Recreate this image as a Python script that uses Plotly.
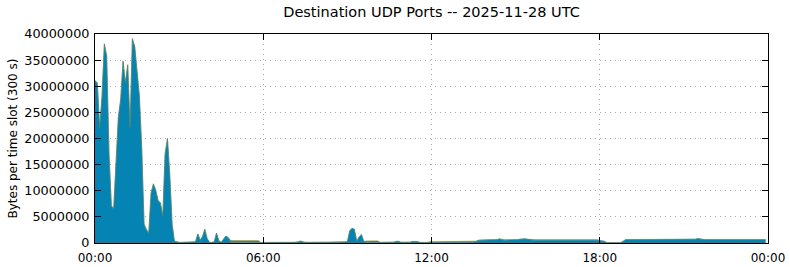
import plotly.graph_objects as go

# 5-minute slots over one day (288 slots), values in millions of bytes
slot_minutes = 5
main_mb = [
    31.0, 30.5, 22.0, 28.0, 38.0, 35.7, 17.0, 7.0, 6.5, 15.0, 24.0, 27.4,
    34.7, 30.5, 34.0, 22.0, 39.0, 37.5, 33.0, 28.0, 18.0, 3.5, 2.5, 1.8,
    9.5, 11.2, 10.0, 8.0, 7.6, 5.0, 17.0, 19.9, 13.0, 3.5, 0.3, 0.15,
    0.10, 0.10, 0.10, 0.10, 0.10, 0.10, 0.10, 0.20, 1.70, 0.50, 1.20, 2.60,
    0.80, 0.10, 0.10, 0.20, 1.85, 0.40, 0.10, 0.80, 1.30, 1.00, 0.10, 0.05,
    0.05, 0.05, 0.05, 0.05, 0.05, 0.05, 0.05, 0.05, 0.05, 0.05, 0.05, 0.05,
    0.05, 0.10, 0.10, 0.12, 0.10, 0.10, 0.12, 0.10, 0.10, 0.10, 0.12, 0.10,
    0.10, 0.10, 0.12, 0.20, 0.35, 0.15, 0.10, 0.10, 0.10, 0.12, 0.10, 0.10,
    0.10, 0.10, 0.10, 0.12, 0.10, 0.10, 0.10, 0.10, 0.12, 0.10, 0.10, 0.12,
    0.20, 2.30, 2.80, 2.60, 0.30, 1.10, 1.60, 0.30, 0.10, 0.10, 0.10, 0.10,
    0.10, 0.10, 0.10, 0.10, 0.10, 0.10, 0.10, 0.10, 0.15, 0.30, 0.30, 0.12,
    0.10, 0.10, 0.10, 0.15, 0.30, 0.30, 0.25, 0.10, 0.08, 0.08, 0.08, 0.08,
    0.08, 0.08, 0.08, 0.08, 0.08, 0.08, 0.08, 0.08, 0.08, 0.08, 0.08, 0.08,
    0.10, 0.10, 0.10, 0.10, 0.10, 0.10, 0.15, 0.30, 0.50, 0.55, 0.55, 0.55,
    0.55, 0.55, 0.55, 0.55, 0.60, 0.75, 0.60, 0.55, 0.55, 0.55, 0.55, 0.55,
    0.55, 0.60, 0.70, 0.75, 0.75, 0.70, 0.60, 0.55, 0.55, 0.55, 0.55, 0.55,
    0.55, 0.55, 0.55, 0.60, 0.55, 0.55, 0.55, 0.55, 0.55, 0.55, 0.55, 0.55,
    0.55, 0.55, 0.55, 0.55, 0.55, 0.55, 0.55, 0.55, 0.55, 0.55, 0.55, 0.55,
    0.45, 0.40, 0.30, 0.05, 0.05, 0.05, 0.05, 0.05, 0.05, 0.05, 0.30, 0.60,
    0.60, 0.60, 0.60, 0.60, 0.60, 0.60, 0.60, 0.60, 0.60, 0.60, 0.60, 0.60,
    0.60, 0.60, 0.60, 0.60, 0.60, 0.60, 0.60, 0.60, 0.60, 0.60, 0.60, 0.60,
    0.60, 0.60, 0.60, 0.60, 0.65, 0.70, 0.80, 0.70, 0.60, 0.60, 0.60, 0.60,
    0.60, 0.60, 0.60, 0.60, 0.60, 0.60, 0.60, 0.60, 0.60, 0.60, 0.60, 0.60,
    0.60, 0.60, 0.60, 0.60, 0.60, 0.60, 0.60, 0.60, 0.60, 0.60, 0.60, 0.60,
]
other_mb = [
    0.15, 0.15, 0.15, 0.15, 0.15, 0.15, 0.15, 0.15, 0.15, 0.15, 0.15, 0.15,
    0.15, 0.15, 0.15, 0.15, 0.15, 0.15, 0.15, 0.15, 0.15, 0.15, 0.15, 0.15,
    0.15, 0.15, 0.15, 0.15, 0.15, 0.15, 0.15, 0.15, 0.15, 0.15, 0.05, 0.05,
    0.05, 0.05, 0.05, 0.05, 0.05, 0.05, 0.05, 0.05, 0.05, 0.05, 0.05, 0.05,
    0.05, 0.05, 0.05, 0.05, 0.05, 0.05, 0.05, 0.05, 0.05, 0.05, 0.40, 0.40,
    0.40, 0.40, 0.40, 0.40, 0.40, 0.40, 0.40, 0.40, 0.40, 0.40, 0.40, 0.05,
    0.03, 0.03, 0.03, 0.03, 0.03, 0.03, 0.03, 0.03, 0.03, 0.03, 0.03, 0.03,
    0.03, 0.03, 0.03, 0.03, 0.03, 0.03, 0.03, 0.03, 0.03, 0.03, 0.03, 0.03,
    0.03, 0.03, 0.03, 0.03, 0.03, 0.03, 0.03, 0.03, 0.03, 0.03, 0.03, 0.03,
    0.05, 0.05, 0.05, 0.05, 0.05, 0.05, 0.05, 0.05, 0.30, 0.30, 0.30, 0.30,
    0.30, 0.30, 0.03, 0.03, 0.03, 0.03, 0.03, 0.03, 0.03, 0.03, 0.03, 0.03,
    0.03, 0.03, 0.03, 0.03, 0.03, 0.03, 0.03, 0.03, 0.03, 0.03, 0.03, 0.15,
    0.15, 0.15, 0.15, 0.15, 0.15, 0.15, 0.15, 0.15, 0.15, 0.15, 0.15, 0.15,
    0.15, 0.15, 0.15, 0.15, 0.15, 0.15, 0.15, 0.05, 0.05, 0.05, 0.05, 0.05,
    0.05, 0.05, 0.05, 0.05, 0.05, 0.05, 0.05, 0.05, 0.05, 0.05, 0.05, 0.05,
    0.05, 0.05, 0.05, 0.05, 0.05, 0.05, 0.05, 0.05, 0.05, 0.05, 0.05, 0.05,
    0.05, 0.05, 0.05, 0.05, 0.05, 0.05, 0.05, 0.05, 0.05, 0.05, 0.05, 0.05,
    0.05, 0.05, 0.05, 0.05, 0.05, 0.05, 0.05, 0.05, 0.05, 0.05, 0.05, 0.05,
    0.05, 0.05, 0.05, 0.03, 0.03, 0.03, 0.03, 0.03, 0.03, 0.03, 0.05, 0.05,
    0.05, 0.05, 0.05, 0.05, 0.05, 0.05, 0.05, 0.05, 0.05, 0.05, 0.05, 0.05,
    0.05, 0.05, 0.05, 0.05, 0.05, 0.05, 0.05, 0.05, 0.05, 0.05, 0.05, 0.05,
    0.05, 0.05, 0.05, 0.05, 0.05, 0.05, 0.05, 0.05, 0.05, 0.05, 0.05, 0.05,
    0.05, 0.05, 0.05, 0.05, 0.05, 0.05, 0.05, 0.05, 0.05, 0.05, 0.05, 0.05,
    0.05, 0.05, 0.05, 0.05, 0.05, 0.05, 0.05, 0.05, 0.05, 0.05, 0.05, 0.05,
]
x_tick_hours = [0, 6, 12, 18, 24]
x_tick_labels = ["00:00", "06:00", "12:00", "18:00", "00:00"]
y_ticks = [0, 5000000, 10000000, 15000000, 20000000, 25000000, 30000000, 35000000, 40000000]

hours = [i * slot_minutes / 60 for i in range(len(main_mb))]
main_bytes = [v * 1e6 for v in main_mb]
other_bytes = [v * 1e6 for v in other_mb]

FONT = "DejaVu Sans"
fig = go.Figure()
fig.add_trace(go.Scatter(
    x=hours, y=main_bytes, stackgroup="one", mode="lines",
    line=dict(color="#0584b4", width=0.5), fillcolor="#0584b4", name="main"))
fig.add_trace(go.Scatter(
    x=hours, y=other_bytes, stackgroup="one", mode="lines",
    line=dict(color="#6e7d3c", width=0.6), fillcolor="#6e7d3c", name="other"))

axis_common = dict(
    showline=True, linecolor="black", linewidth=1, mirror="ticks",
    ticks="inside", ticklen=6, tickcolor="black", tickwidth=1,
    showgrid=True, gridcolor="#a8a8a8", griddash="1px,4px", gridwidth=1,
    zeroline=False, automargin=False,
)
fig.update_xaxes(range=[0, 24], tickvals=x_tick_hours, ticktext=x_tick_labels,
                 ticklabelstandoff=4,
                 tickfont=dict(family=FONT, size=12, color="black"), **axis_common)
fig.update_yaxes(range=[0, 40000000], tickvals=y_ticks, tickformat="d",
                 ticklabelstandoff=2,
                 tickfont=dict(family=FONT, size=12.8, color="black"), **axis_common)

fig.update_layout(
    width=790, height=267,
    margin=dict(l=95, r=22, t=34, b=24),
    paper_bgcolor="white", plot_bgcolor="white",
    showlegend=False,
    font=dict(family=FONT, size=12, color="black"),
    title=dict(text="Destination UDP Ports -- 2025-11-28 UTC",
               font=dict(family=FONT, size=14.5, color="black"),
               x=(95 + 768) / 2 / 790, xanchor="center",
               yref="container", y=1 - 12 / 267, yanchor="middle"),
    annotations=[dict(text="Bytes per time slot (300 s)", textangle=-90,
                      xref="paper", yref="paper", x=(12 - 95) / 673, y=0.5,
                      xanchor="center", yanchor="middle", showarrow=False,
                      font=dict(family=FONT, size=12, color="black"))],
)
fig.write_html("out.html")
